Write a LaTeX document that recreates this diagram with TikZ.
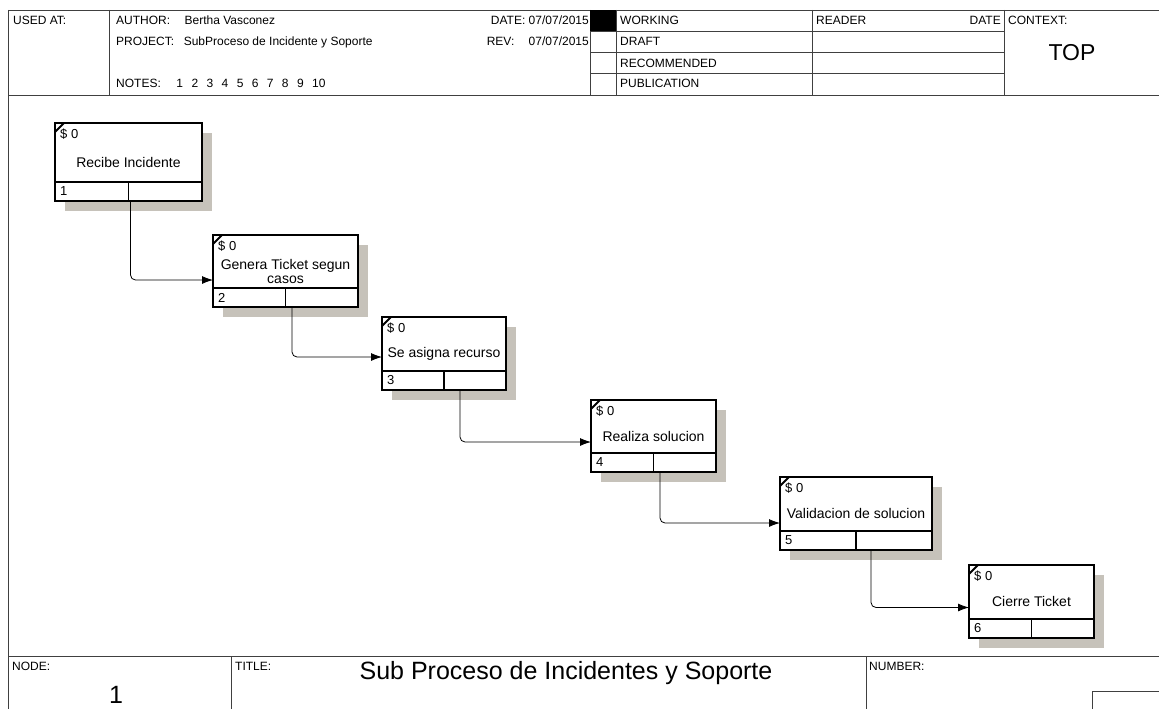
\documentclass[tikz,border=0pt]{standalone}
\usepackage{fontspec}
\setmainfont{Liberation Sans}
\usetikzlibrary{positioning, shadows, arrows.meta}
\definecolor{shadowgray}{RGB}{198,194,186}
\definecolor{framegray}{RGB}{64,64,64}

\begin{document}
\begin{tikzpicture}[x=1pt, y=-1pt,
  act/.style={rectangle, draw, line width=1.8pt, fill=white, outer sep=0pt, align=center,
    font=\fontsize{14}{14}\selectfont,
    drop shadow={shadow xshift=10pt, shadow yshift=-10pt, fill=shadowgray, opacity=1}},
  cell/.style={line width=1.8pt},
  tag/.style={font=\fontsize{13}{13}\selectfont, inner sep=0pt, anchor=west},
  hdr/.style={font=\fontsize{12}{12}\selectfont, inner sep=0pt, anchor=base west},
  rule/.style={draw=framegray, line width=0.9pt},
  flow/.style={line width=0.8pt, rounded corners=5pt, -{Latex[length=11pt, width=8pt]}}]
\useasboundingbox (0,0) rectangle (1159,709);

% frame
\draw[rule] (8,10) -- (1159,10);
\draw[rule] (8,10) -- (8,709);
\draw[rule] (8,95) -- (1159,95);
\draw[rule] (109,10) -- (109,95);
\draw[rule] (590,10) -- (590,95);
\draw[rule] (616,10) -- (616,95);
\draw[rule] (812,10) -- (812,95);
\draw[rule] (1004,10) -- (1004,95);
\draw[rule] (590,31.25) -- (1004,31.25);
\draw[rule] (590,52.5) -- (1004,52.5);
\draw[rule] (590,73.75) -- (1004,73.75);
\fill (590,10) rectangle (616,31.25);
\draw[rule] (8,656) -- (1159,656);
\draw[rule] (231,656) -- (231,709);
\draw[rule] (866,656) -- (866,709);
\draw[rule] (1092,709) |- (1159,691);

% header
\node[hdr] (usedat) at (13,25) {USED AT:};
\node[hdr] (author) at (116,25) {AUTHOR:\hspace{1.2em}Bertha Vasconez};
\node[hdr] (project) at (116,46) {PROJECT:\hspace{0.8em}SubProceso de Incidente y Soporte};
\node[hdr] (notes) at (116,88) {NOTES:\hspace{1.3em}1\hspace{.7em}2\hspace{.7em}3\hspace{.7em}4\hspace{.7em}5\hspace{.7em}6\hspace{.7em}7\hspace{.7em}8\hspace{.7em}9\hspace{.7em}10};
\node[hdr, anchor=base east] (date) at (589,25) {DATE: 07/07/2015};
\node[hdr, anchor=base east] (rev) at (589,46) {REV:\hspace{1.2em}07/07/2015};
\node[hdr] (working) at (620,25) {WORKING};
\node[hdr] (draft) at (620,46) {DRAFT};
\node[hdr] (recommended) at (620,67) {RECOMMENDED};
\node[hdr] (publication) at (620,88) {PUBLICATION};
\node[hdr] (reader) at (816,25) {READER};
\node[hdr, anchor=base east] (readerdate) at (1001,25) {DATE};
\node[hdr] (context) at (1008,25) {CONTEXT:};
\node[hdr, anchor=base, font=\fontsize{23}{23}\selectfont] (top) at (1072,60) {TOP};

% footer
\node[hdr] (nodelbl) at (12,670) {NODE:};
\node[hdr, anchor=base, font=\fontsize{25}{25}\selectfont] (nodenum) at (116,703) {1};
\node[hdr] (titlelbl) at (235,670) {TITLE:};
\node[hdr, anchor=base, font=\fontsize{25}{25}\selectfont] (title) at (566,679) {Sub Proceso de Incidentes y Soporte};
\node[hdr] (numberlbl) at (869,670) {NUMBER:};

% activities
\node[act, anchor=north west, minimum width=147pt, minimum height=78pt] (recibe) at (55,123) {Recibe Incidente};
\node[act, minimum width=145pt, minimum height=72pt, below right=34pt and 11pt of recibe] (genera) {Genera Ticket segun\\casos};
\node[act, minimum width=124pt, minimum height=73pt, below right=10pt and 24pt of genera] (asigna) {Se asigna recurso};
\node[act, minimum width=125pt, minimum height=72pt, below right=10pt and 85pt of asigna] (realiza) {Realiza solucion};
\node[act, minimum width=152pt, minimum height=73pt, below right=5pt and 64pt of realiza] (valida) {Validacion de solucion};
\node[act, minimum width=125pt, minimum height=73pt, below right=15pt and 37pt of valida] (cierre) {Cierre Ticket};

\draw[cell] ([yshift=19pt]recibe.south west) -- ([yshift=19pt]recibe.south east);
\draw[cell] ([yshift=19pt]recibe.south) -- (recibe.south);
\draw[cell] ([yshift=-9pt]recibe.north west) -- ([xshift=9pt]recibe.north west);
\node[tag] (recibe-cost) at ([xshift=5pt, yshift=-11pt]recibe.north west) {\$ 0};
\node[tag] (recibe-num) at ([xshift=5pt, yshift=9.5pt]recibe.south west) {1};

\draw[cell] ([yshift=19pt]genera.south west) -- ([yshift=19pt]genera.south east);
\draw[cell] ([yshift=19pt]genera.south) -- (genera.south);
\draw[cell] ([yshift=-9pt]genera.north west) -- ([xshift=9pt]genera.north west);
\node[tag] (genera-cost) at ([xshift=5pt, yshift=-11pt]genera.north west) {\$ 0};
\node[tag] (genera-num) at ([xshift=5pt, yshift=9.5pt]genera.south west) {2};

\draw[cell] ([yshift=19pt]asigna.south west) -- ([yshift=19pt]asigna.south east);
\draw[cell] ([yshift=19pt]asigna.south) -- (asigna.south);
\draw[cell] ([yshift=-9pt]asigna.north west) -- ([xshift=9pt]asigna.north west);
\node[tag] (asigna-cost) at ([xshift=5pt, yshift=-11pt]asigna.north west) {\$ 0};
\node[tag] (asigna-num) at ([xshift=5pt, yshift=9.5pt]asigna.south west) {3};

\draw[cell] ([yshift=19pt]realiza.south west) -- ([yshift=19pt]realiza.south east);
\draw[cell] ([yshift=19pt]realiza.south) -- (realiza.south);
\draw[cell] ([yshift=-9pt]realiza.north west) -- ([xshift=9pt]realiza.north west);
\node[tag] (realiza-cost) at ([xshift=5pt, yshift=-11pt]realiza.north west) {\$ 0};
\node[tag] (realiza-num) at ([xshift=5pt, yshift=9.5pt]realiza.south west) {4};

\draw[cell] ([yshift=19pt]valida.south west) -- ([yshift=19pt]valida.south east);
\draw[cell] ([yshift=19pt]valida.south) -- (valida.south);
\draw[cell] ([yshift=-9pt]valida.north west) -- ([xshift=9pt]valida.north west);
\node[tag] (valida-cost) at ([xshift=5pt, yshift=-11pt]valida.north west) {\$ 0};
\node[tag] (valida-num) at ([xshift=5pt, yshift=9.5pt]valida.south west) {5};

\draw[cell] ([yshift=19pt]cierre.south west) -- ([yshift=19pt]cierre.south east);
\draw[cell] ([yshift=19pt]cierre.south) -- (cierre.south);
\draw[cell] ([yshift=-9pt]cierre.north west) -- ([xshift=9pt]cierre.north west);
\node[tag] (cierre-cost) at ([xshift=5pt, yshift=-11pt]cierre.north west) {\$ 0};
\node[tag] (cierre-num) at ([xshift=5pt, yshift=9.5pt]cierre.south west) {6};

\draw[flow] ([xshift=2pt]recibe.south) |- ([yshift=-9pt]genera.west);
\draw[flow] ([xshift=6.5pt]genera.south) |- ([yshift=-3.5pt]asigna.west);
\draw[flow] ([xshift=16pt]asigna.south) |- ([yshift=-6pt]realiza.west);
\draw[flow] ([xshift=6.5pt]realiza.south) |- ([yshift=-9.5pt]valida.west);
\draw[flow] ([xshift=15pt]valida.south) |- ([yshift=-6pt]cierre.west);

\end{tikzpicture}
\end{document}
